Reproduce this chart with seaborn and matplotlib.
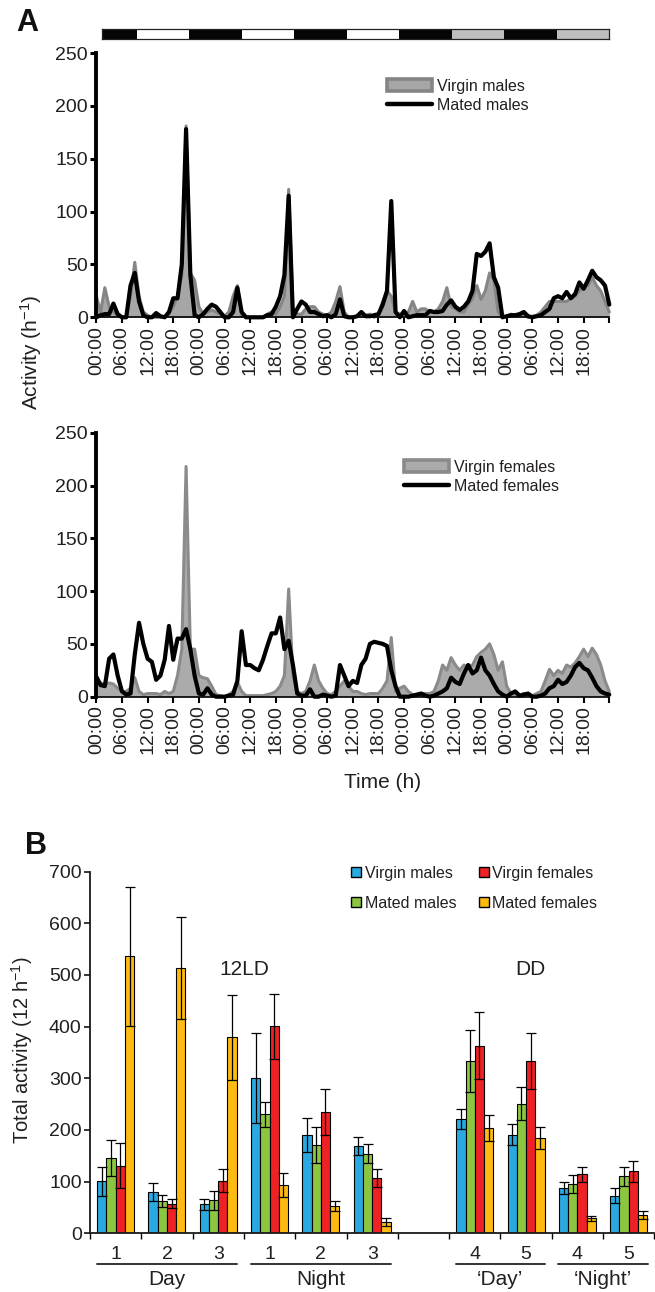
import numpy as np
import pandas as pd
import matplotlib
matplotlib.use("Agg")
import matplotlib.pyplot as plt
import matplotlib.transforms as mtransforms
from matplotlib.patches import Patch
from matplotlib.lines import Line2D
import seaborn as sns

# ---------------- data: panel A (hourly activity, h^-1) ----------------
hours = list(range(121))

virgin_males = [20, 5, 28, 10, 5, 2, 0, 0, 20, 52, 20, 5, 2, 0, 0, 0, 1, 3, 10, 20,
                40, 181, 42, 35, 10, 3, 5, 7, 5, 3, 1, 5, 20, 30, 2, 0, 0, 0, 0, 0,
                3, 5, 3, 10, 20, 121, 5, 3, 3, 8, 10, 10, 5, 3, 2, 5, 15, 29, 5, 0,
                0, 1, 1, 2, 3, 0, 3, 15, 25, 20, 5, 3, 3, 5, 15, 5, 8, 8, 5, 5,
                8, 15, 28, 10, 8, 5, 5, 12, 18, 30, 17, 25, 42, 35, 5, 0, 1, 3, 2, 1,
                2, 0, 1, 2, 5, 10, 15, 15, 15, 15, 15, 18, 20, 25, 30, 30, 38, 30, 25, 15,
                5]
mated_males = [0, 2, 3, 3, 13, 3, 0, 0, 30, 42, 15, 2, 0, 0, 4, 1, 0, 5, 18, 18,
               50, 178, 40, 2, 0, 3, 8, 12, 10, 5, 0, 0, 5, 28, 5, 0, 0, 0, 0, 0,
               2, 3, 10, 20, 40, 115, 0, 8, 15, 12, 5, 5, 3, 1, 2, 0, 3, 17, 1, 0,
               0, 1, 5, 1, 1, 2, 3, 12, 25, 110, 5, 0, 6, 0, 1, 2, 2, 2, 6, 5,
               5, 6, 12, 16, 10, 7, 10, 15, 25, 60, 58, 62, 70, 38, 28, 0, 1, 2, 2, 3,
               5, 1, 0, 1, 2, 5, 8, 18, 20, 18, 24, 18, 22, 33, 27, 35, 44, 38, 35, 30,
               12]
virgin_females = [15, 13, 12, 13, 12, 8, 5, 5, 8, 18, 5, 2, 3, 3, 3, 2, 5, 3, 5, 20,
                  45, 218, 45, 45, 20, 18, 17, 10, 2, 1, 0, 2, 5, 14, 5, 1, 1, 1, 1, 1,
                  2, 3, 5, 10, 20, 102, 20, 5, 3, 5, 15, 30, 15, 8, 3, 2, 5, 10, 15, 10,
                  5, 5, 3, 2, 3, 3, 3, 8, 15, 56, 5, 8, 10, 5, 2, 2, 3, 3, 3, 5,
                  15, 30, 25, 37, 30, 25, 30, 28, 30, 38, 42, 45, 50, 40, 25, 33, 10, 3, 2, 1,
                  3, 2, 1, 3, 5, 15, 26, 20, 25, 22, 30, 28, 32, 38, 45, 38, 46, 40, 30, 15,
                  5]
mated_females = [19, 11, 10, 36, 40, 20, 5, 2, 3, 40, 70, 50, 36, 33, 16, 20, 35, 67, 35, 55,
                 55, 64, 45, 20, 3, 2, 8, 2, 0, 0, 0, 1, 2, 15, 62, 30, 30, 27, 25, 35,
                 48, 60, 60, 75, 45, 53, 30, 3, 1, 1, 7, 0, 0, 2, 1, 0, 1, 30, 20, 10,
                 15, 13, 30, 36, 50, 52, 51, 50, 48, 25, 10, 0, 0, 0, 1, 2, 3, 1, 0, 1,
                 3, 5, 8, 18, 14, 12, 22, 30, 22, 25, 37, 25, 20, 12, 5, 2, 0, 3, 5, 1,
                 2, 3, 0, 0, 1, 3, 8, 10, 16, 12, 14, 20, 28, 32, 27, 25, 18, 10, 5, 3,
                 2]

time_ticks = list(range(0, 121, 6))
time_tick_labels = ["00:00", "06:00", "12:00", "18:00"] * 5 + [""]

# light regime bar (hours per segment)
light_durations = [8, 12, 12, 12, 12, 12, 12, 12, 12, 12]
light_colors = ["#050505", "#ffffff", "#050505", "#ffffff", "#050505",
                "#ffffff", "#050505", "#bebebe", "#050505", "#bebebe"]

# ---------------- data: panel B (total activity, 12 h^-1) ----------------
periods = ["Day 1", "Day 2", "Day 3", "Night 1", "Night 2", "Night 3", "gap",
           "DD Day 4", "DD Day 5", "DD Night 4", "DD Night 5"]
period_labels = ["1", "2", "3", "1", "2", "3", "", "4", "5", "4", "5"]
groups = ["Virgin males", "Mated males", "Virgin females", "Mated females"]
group_colors = ["#29a9e0", "#8cc540", "#ee2124", "#fdbb12"]

vm_mean = [101, 80, 56, 300, 191, 169, 221, 191, 88, 73]
mm_mean = [146, 62, 64, 230, 171, 154, 334, 251, 95, 110]
vf_mean = [131, 57, 102, 401, 235, 107, 363, 333, 114, 120]
mf_mean = [536, 513, 379, 93, 53, 22, 203, 184, 29, 36]
vm_se = [28, 17, 11, 87, 33, 18, 20, 21, 12, 14]
mm_se = [35, 12, 18, 25, 34, 18, 60, 32, 17, 18]
vf_se = [44, 9, 22, 63, 44, 17, 65, 54, 14, 20]
mf_se = [135, 99, 82, 23, 9, 8, 25, 21, 5, 8]

period_groups = [("Day", 0, 2), ("Night", 3, 5), ("\u2018Day\u2019", 7, 8), ("\u2018Night\u2019", 9, 10)]

# ---------------- style ----------------
sns.set_theme(style="ticks")
plt.rcParams["font.family"] = ["Liberation Sans", "DejaVu Sans"]
plt.rcParams["mathtext.fontset"] = "custom"
plt.rcParams["mathtext.rm"] = "Liberation Sans"
plt.rcParams["mathtext.it"] = "Liberation Sans:italic"
plt.rcParams["mathtext.default"] = "regular"
TXT = "#231f20"
plt.rcParams["text.color"] = TXT
plt.rcParams["xtick.color"] = "black"
plt.rcParams["ytick.color"] = "black"
plt.rcParams["xtick.labelcolor"] = TXT
plt.rcParams["ytick.labelcolor"] = TXT

W, H = 655, 1292
fig = plt.figure(figsize=(W / 100, H / 100), dpi=100)


def fx(px):
    return px / W


def fy(py):
    return 1 - py / H


def ts_panel(rect, grey_vals, black_vals, grey_label, black_label, fill, edge, leg_anchor):
    ax = fig.add_axes(rect)
    df = pd.DataFrame({"hour": hours, "virgin": grey_vals, "mated": black_vals})
    ax.fill_between(df["hour"], 0, df["virgin"], color=fill, lw=0, zorder=1)
    sns.lineplot(data=df, x="hour", y="virgin", color=edge, lw=2.2, ax=ax, zorder=2, clip_on=False)
    sns.lineplot(data=df, x="hour", y="mated", color="black", lw=3.0, ax=ax, zorder=3, clip_on=False)
    ax.set_xlim(0, 120)
    ax.set_ylim(0, 250)
    ax.set_yticks([0, 50, 100, 150, 200, 250])
    ax.set_xticks(time_ticks)
    ax.set_xticklabels(time_tick_labels, rotation=90, fontsize=14)
    ax.tick_params(axis="y", labelsize=14, width=2.2, length=4.5, pad=1.5)
    ax.tick_params(axis="x", width=1.5, length=4, pad=2)
    ax.set_xlabel("")
    ax.set_ylabel("")
    for s in ["top", "right"]:
        ax.spines[s].set_visible(False)
    ax.spines["left"].set_linewidth(2.8)
    ax.spines["bottom"].set_linewidth(1.2)
    ax.spines["left"].set_color("black")
    ax.spines["bottom"].set_color("black")
    handles = [Patch(facecolor=fill, edgecolor=edge, linewidth=2.6),
               Line2D([], [], color="black", lw=3.2, solid_capstyle="round")]
    ax.legend(handles, [grey_label, black_label], loc="center left", bbox_to_anchor=leg_anchor,
              frameon=False, fontsize=11.5, handlelength=2.8, handleheight=0.85,
              handletextpad=0.3, labelspacing=0.25, borderpad=0, borderaxespad=0)
    ax.set_facecolor("none")
    return ax


axA1 = ts_panel([fx(96.3), fy(317.3), fx(609.3) - fx(96.3), (317.3 - 53) / H],
                virgin_males, mated_males, "Virgin males", "Mated males",
                "#a6a6a6", "#858585", (0.567, 0.839))
axA2 = ts_panel([fx(96.3), fy(696.7), fx(609.3) - fx(96.3), (696.7 - 432.7) / H],
                virgin_females, mated_females, "Virgin females", "Mated females",
                "#ababab", "#8a8a8a", (0.600, 0.834))

# light bar
axL = fig.add_axes([fx(101.7), fy(38.7), fx(609.3) - fx(101.7), 9.4 / H])
starts = np.concatenate([[0], np.cumsum(light_durations)[:-1]])
axL.barh([0] * len(light_durations), light_durations, left=starts, height=1,
         color=light_colors, edgecolor="none")
axL.set_xlim(0, sum(light_durations))
axL.set_ylim(-0.5, 0.5)
axL.set_xticks([])
axL.set_yticks([])
for s in axL.spines.values():
    s.set_linewidth(0.9)
    s.set_color("#222222")

fig.text(fx(31), fy(352), "Activity (h$^{-1}$)", rotation=90, ha="center", va="center", fontsize=15)
fig.text(fx(383), fy(782), "Time (h)", ha="center", va="center", fontsize=15)
fig.text(fx(16), fy(8), "A", ha="left", va="top", fontsize=22, weight="bold", color="#111111")

# ---------------- panel B ----------------
axB = fig.add_axes([fx(90), fy(1233.3), 1 - fx(90) - 0.001, (1233.3 - 871.6) / H])
means = [vm_mean, mm_mean, vf_mean, mf_mean]
ses = [vm_se, mm_se, vf_se, mf_se]
real_periods = [p for p in periods if p != "gap"]
rows = []
for g, m, s in zip(groups, means, ses):
    for p, mv, sv in zip(real_periods, m, s):
        rows.append({"period": p, "group": g, "activity": mv, "se": sv})
dfB = pd.DataFrame(rows)
bar_width = 0.72
sns.barplot(data=dfB, x="period", y="activity", hue="group", order=periods, hue_order=groups,
            palette=group_colors, width=bar_width, errorbar=None, edgecolor="black",
            linewidth=0.8, saturation=1, legend=False, ax=axB)
n_h = len(groups)
cat_pos = [periods.index(p) for p in real_periods]
for i, (m, s) in enumerate(zip(means, ses)):
    off = -bar_width / 2 + bar_width / n_h * (i + 0.5)
    axB.errorbar(np.array(cat_pos) + off, m, yerr=s, fmt="none", ecolor="black",
                 elinewidth=0.9, capsize=3.3, capthick=0.9, zorder=5)

axB.set_xlim(-0.5, len(periods) - 0.5)
axB.set_ylim(0, 700)
axB.set_yticks(range(0, 701, 100))
axB.set_xticks(range(len(periods)))
axB.set_xticklabels(period_labels, fontsize=14)
axB.set_xticks(np.arange(-0.5, len(periods), 1), minor=True)
axB.tick_params(axis="x", which="major", length=0, pad=9)
axB.tick_params(axis="x", which="minor", length=4, width=1)
axB.tick_params(axis="y", labelsize=14, length=4.5, width=1.1, pad=1.5)
axB.set_xlabel("")
axB.set_ylabel("")
for s in ["top", "right"]:
    axB.spines[s].set_visible(False)
for s in ["left", "bottom"]:
    axB.spines[s].set_linewidth(1.3)
    axB.spines[s].set_color("#1a1a1a")

trans = mtransforms.blended_transform_factory(axB.transData, axB.transAxes)
for label, i0, i1 in period_groups:
    axB.plot([i0 - 0.37, i1 + 0.37], [-0.085, -0.085], color="#333333", lw=1.4,
             transform=trans, clip_on=False)
    axB.text((i0 + i1) / 2, -0.129, label, transform=trans, ha="center", va="center", fontsize=15)

axB.text(2.5, 510, "12LD", ha="center", va="center", fontsize=15)
axB.text(8.08, 510, "DD", ha="center", va="center", fontsize=15)

leg_handles = [Line2D([], [], marker="s", linestyle="none", markerfacecolor=c,
                      markeredgecolor="black", markersize=6.5, markeredgewidth=1.0)
               for c in group_colors]
axB.legend(leg_handles, groups, ncol=2, loc="center left", bbox_to_anchor=(0.4637, 0.9536),
           frameon=False, fontsize=11.5, handlelength=0.6, handletextpad=0.22,
           labelspacing=0.94, columnspacing=1.4, borderpad=0, borderaxespad=0)

fig.text(fx(22), fy(1050), "Total activity (12 h$^{-1}$)", rotation=90, ha="center", va="center", fontsize=14.5)
fig.text(fx(25), fy(831), "B", ha="left", va="top", fontsize=22, weight="bold", color="#111111")

fig.savefig("out.png", dpi=100)
